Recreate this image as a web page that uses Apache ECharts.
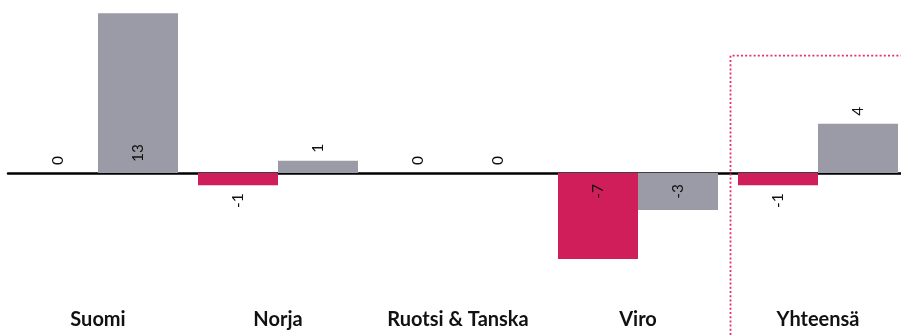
<!DOCTYPE html>
<html>
<head>
<meta charset="utf-8">
<script src="https://cdn.jsdelivr.net/npm/echarts@6/dist/echarts.min.js"></script>
<style>
  html, body { margin: 0; padding: 0; background: #fff; overflow: hidden; }
  #chart { width: 910px; height: 335px; }
</style>
</head>
<body>
<div id="chart"></div>
<script>
const categories = ["Suomi", "Norja", "Ruotsi & Tanska", "Viro", "Yhteensä"];
const crimsonValues = [0, -1, 0, -7, -1];
const grayValues = [13, 1, 0, -3, 4];

const CRIMSON = "#d01e5a";
const GRAY = "#9a9ba7";
const FONT = "Lato";

// labels sit inside the bar (at the base) when it is tall enough, otherwise past its end
function labelFor(v) {
  const inside = v >= 5 || v <= -2;
  let position, align;
  if (v > 0) { position = inside ? "insideBottom" : "top"; align = "left"; }
  else if (v < 0) { position = inside ? "insideTop" : "bottom"; align = "right"; }
  else { position = "top"; align = "left"; }
  return {
    show: true, position, align, verticalAlign: "middle", rotate: 90,
    distance: inside ? 11 : 8,
    color: "#111", fontFamily: FONT, fontSize: 15.5,
    formatter: (p) => String(p.value)
  };
}

function toData(values) {
  return values.map(v => ({ value: v, label: labelFor(v) }));
}

// chart is a bit wider than the window: the last category runs off the right edge
const chart = echarts.init(document.getElementById("chart"));
chart.setOption({
  animation: false,
  grid: { left: 8, right: 2, top: 0, height: 296 },
  xAxis: [
    {
      type: "category", data: categories,
      axisLine: { onZero: true, lineStyle: { color: "#000", width: 2.5 } },
      axisTick: { show: false }, axisLabel: { show: false }
    },
    {
      type: "category", data: categories, position: "bottom",
      axisLine: { show: false, onZero: false }, axisTick: { show: false },
      axisLabel: { interval: 0, margin: 14, color: "#111", fontFamily: FONT, fontWeight: "bold", fontSize: 20 }
    }
  ],
  yAxis: {
    type: "value", min: -10, max: 14.07, show: false,
    splitLine: { show: false }
  },
  series: [
    {
      name: "A", type: "bar", barWidth: 80, barGap: "0%",
      itemStyle: { color: CRIMSON },
      data: toData(crimsonValues)
    },
    {
      name: "B", type: "bar", barWidth: 80, barGap: "0%",
      itemStyle: { color: GRAY },
      data: toData(grayValues)
    }
  ]
});

// dotted frame around the total category
const cx = chart.convertToPixel({ xAxisIndex: 0 }, "Yhteensä");
const left = cx - 87.5;
chart.setOption({
  graphic: [{
    type: "polyline", silent: true, z: 100,
    shape: { points: [[left, 335], [left, 55.7], [910, 55.7]] },
    style: { fill: null, stroke: "#e3306b", lineWidth: 1.8, lineDash: [2, 2.2] }
  }]
});
</script>
</body>
</html>
